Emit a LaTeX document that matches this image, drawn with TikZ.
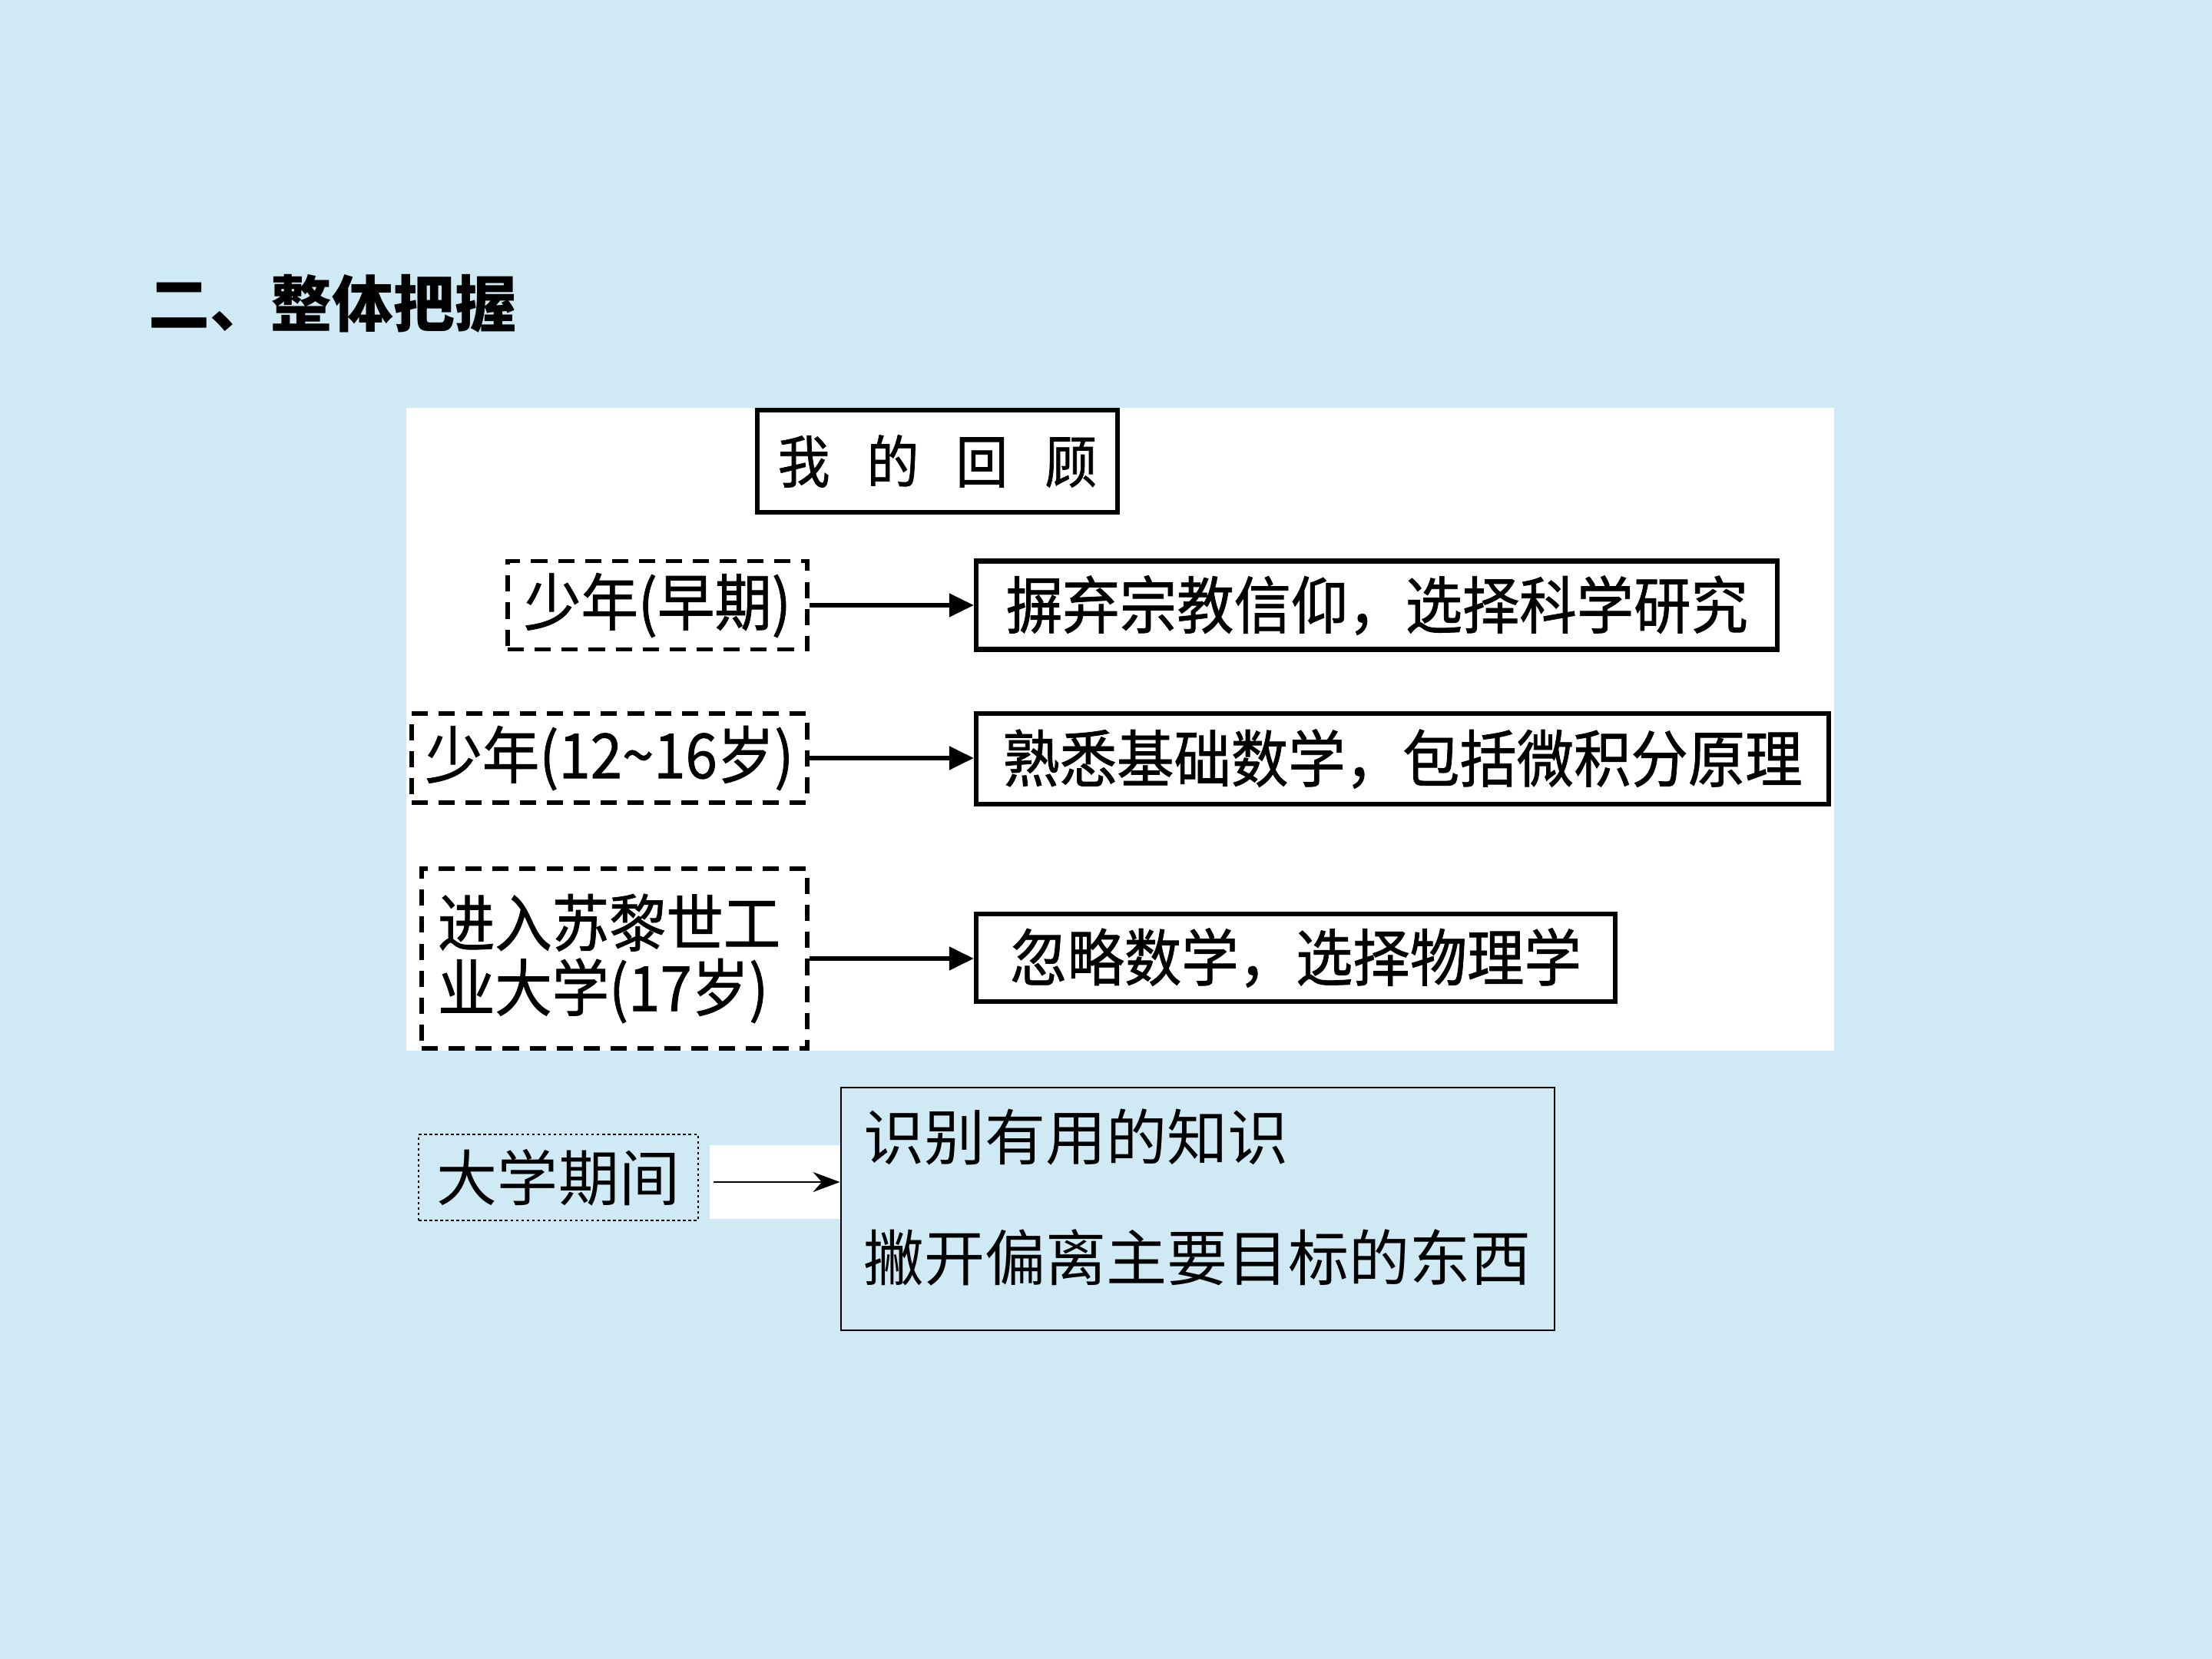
\documentclass[tikz,border=0pt]{standalone}
\usepackage{fontspec}
\setmainfont{Noto Sans CJK SC}
\newfontfamily\panelfont[FakeStretch=0.92,FakeBold=1]{Noto Sans CJK SC}
\usetikzlibrary{arrows.meta,positioning}
\definecolor{slidebg}{HTML}{CFEAF4}
\definecolor{ink}{HTML}{000000}
\tikzset{
  headbox/.style={draw=ink,fill=white,line width=1.8pt,inner sep=0pt,
                  minimum width=4.69cm,minimum height=1.33cm,
                  font=\panelfont\fontsize{21}{25}\selectfont},
  agebox/.style={draw=ink,fill=white,line width=1.6pt,
                 dash pattern=on 6pt off 4pt,inner sep=0pt,
                 minimum height=1.15cm,
                 font=\panelfont\fontsize{23}{24}\selectfont},
  factbox/.style={draw=ink,fill=white,line width=1.8pt,inner sep=0pt,
                  minimum height=1.15cm,
                  font=\panelfont\fontsize{23}{24}\selectfont},
  thickarr/.style={-{Triangle[length=3.2mm,width=3mm]},line width=1.5pt,
                   draw=ink},
  thinarr/.style={-{Stealth[length=3.5mm,width=2.6mm]},line width=0.7pt,
                  draw=ink}
}

\begin{document}
\begin{tikzpicture}[x=1cm,y=1cm]
    \fill[slidebg] (0,0) rectangle (28.8,-21.6);
    \path[use as bounding box] (0,0) rectangle (28.8,-21.6);
    \node[anchor=west,font=\bfseries\fontsize{22.7}{26}\selectfont] (title)
      at (1.81,-3.95) {二、整体把握};
    % white panel
    \node[fill=white,minimum width=18.59cm,minimum height=8.37cm,inner sep=0pt]
      (panel) at (14.585,-9.495) {};
    \node[headbox] (head) at (12.205,-6.005)
      {我\hspace{0.48cm}的\hspace{0.48cm}回\hspace{0.48cm}顾};
    \node[agebox,minimum width=3.90cm] (early) at (8.56,-7.88) {少年(早期)};
    \node[factbox,minimum width=10.43cm] (faith) at (17.925,-7.88)
      {摒弃宗教信仰，选择科学研究};
    \node[agebox,minimum width=5.15cm,minimum height=1.16cm] (teen)
      at (7.935,-9.87) {少年(12\char`\~16岁)};
    \node[factbox,minimum width=11.10cm,minimum height=1.18cm] (calc)
      at (18.26,-9.88) {熟悉基础数学，包括微积分原理};
    \node[agebox,minimum width=5.02cm,minimum height=2.34cm,
          text width=4.6cm,align=left] (eth) at (8.00,-12.48)
      {进入苏黎世工\\业大学(17岁)};
    \node[factbox,minimum width=8.32cm,minimum height=1.14cm] (phys)
      at (16.87,-12.47) {忽略数学，选择物理学};
    \draw[thickarr] (early) -- (faith);
    \draw[thickarr] (teen) -- (calc.west |- teen);
    \draw[thickarr] (eth) -- (phys.west |- eth);
    % university years
    \node[draw=ink,line width=0.6pt,dash pattern=on 1pt off 1pt,
          minimum width=3.64cm,minimum height=1.12cm,inner sep=0pt,
          font=\fontsize{22.5}{27}\selectfont] (uni) at (7.27,-15.33) {大学期间};
    \node[fill=white,minimum width=1.72cm,minimum height=0.96cm,inner sep=0pt]
      (gap) at (10.10,-15.39) {};
    \node[draw=ink,line width=0.8pt,minimum width=9.29cm,minimum height=3.16cm,
          inner xsep=0.29cm,text width=8.71cm,align=left,
          font=\fontsize{22.5}{27}\selectfont] (lesson) at (15.595,-15.74)
      {识别有用的知识\\[0.62cm]撇开偏离主要目标的东西\par\kern0.3cm};
    \draw[thinarr,shorten <=0.19cm] (uni.east |- gap) -- (lesson.west |- gap);
  \end{tikzpicture}
\end{document}
